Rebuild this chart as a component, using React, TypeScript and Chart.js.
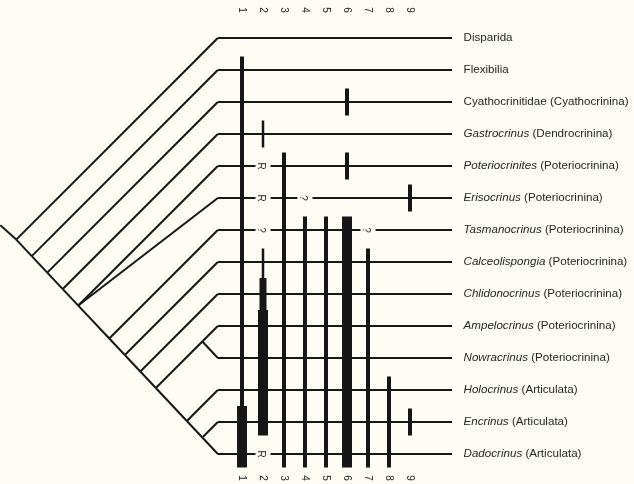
import React, { useEffect, useRef } from "react";
import { Chart, registerables } from "chart.js";

Chart.register(...registerables);

// ---------------- DATA ----------------
const taxonNames = [
  "Disparida",
  "Flexibilia",
  "Cyathocrinitidae",
  "Gastrocrinus",
  "Poteriocrinites",
  "Erisocrinus",
  "Tasmanocrinus",
  "Calceolispongia",
  "Chlidonocrinus",
  "Ampelocrinus",
  "Nowracrinus",
  "Holocrinus",
  "Encrinus",
  "Dadocrinus",
];
const taxonGroups = [
  "",
  "",
  "(Cyathocrinina)",
  "(Dendrocrinina)",
  "(Poteriocrinina)",
  "(Poteriocrinina)",
  "(Poteriocrinina)",
  "(Poteriocrinina)",
  "(Poteriocrinina)",
  "(Poteriocrinina)",
  "(Poteriocrinina)",
  "(Articulata)",
  "(Articulata)",
  "(Articulata)",
];
const italicNames = [false, false, false, true, true, true, true, true, true, true, true, true, true, true];

const characterLabels = ["1", "2", "3", "4", "5", "6", "7", "8", "9"];

// tree topology (taxon indices), nested clades
type Clade = number | Clade[];
const cladogram: Clade = [0, [1, [2, [3, [4, 5, [6, [7, [8, [[9, 10], [11, [12, 13]]]]]]]]]]];

// character states per taxon: 0 absent, 1 hairline, 2 thin, 3 medium, 4 thick, "R" reversal, "?" unknown
type State = number | string;
const char1: State[] = [0, 2, 2, 2, 2, 2, 2, 2, 2, 2, 2, 2, 4, 4];
const char2: State[] = [0, 0, 0, 1, "R", "R", "?", 1, 3, 4, 4, 4, 4, "R"];
const char3: State[] = [0, 0, 0, 0, 2, 2, 2, 2, 2, 2, 2, 2, 2, 2];
const char4: State[] = [0, 0, 0, 0, 0, "?", 2, 2, 2, 2, 2, 2, 2, 2];
const char5: State[] = [0, 0, 0, 0, 0, 0, 2, 2, 2, 2, 2, 2, 2, 2];
const char6: State[] = [0, 0, 2, 0, 2, 0, 4, 4, 4, 4, 4, 4, 4, 4];
const char7: State[] = [0, 0, 0, 0, 0, 0, "?", 2, 2, 2, 2, 2, 2, 2];
const char8: State[] = [0, 0, 0, 0, 0, 0, 0, 0, 0, 0, 0, 2, 2, 2];
const char9: State[] = [0, 0, 0, 0, 0, 2, 0, 0, 0, 0, 0, 0, 2, 0];
const characterStates = [char1, char2, char3, char4, char5, char6, char7, char8, char9];

// ---------------- STYLE / LAYOUT ----------------
const W = 634;
const H = 484;
const COL_PX = 21;
const COL0_PX = 221; // pixel of x = 0
const ROW_PX = 32;
const ROW0_PX = 38; // pixel of first taxon row
const K = ROW_PX / COL_PX; // x units per row for 45° lines
const LEAF_START = -0.15;
const LINE_END = 11;
const LABEL_X = 11.55;
const NODE_SHIFT = 0.2; // nudge (rows) of the root along the up-right diagonal, tapering to 0 at the tips
const TOP_NUM_ROW = (10 - ROW0_PX) / ROW_PX;
const BOTTOM_NUM_ROW = (478 - ROW0_PX) / ROW_PX;
const EXT = 0.42;
const GAP = 0.36;
const INK = "#161616";
const TEXT_INK = "#262626";
const BG = "#fdfdf4";
const TREE_W = 2;
const LINE_W = 2;
const stateWidth: Record<number, number> = { 1: 2.5, 2: 4, 3: 7, 4: 10 };
const FONT = '"Liberation Sans", Arial, Helvetica, sans-serif';
const LABEL_SIZE = 11.6;
const LAST = taxonNames.length - 1;

type Seg = { x1: number; y1: number; x2: number; y2: number; w: number };

function layoutTree(node: Clade, segs: Seg[]): { x: number; y: number; min: number; max: number } {
  if (typeof node === "number") return { x: LEAF_START, y: node, min: node, max: node };
  const kids = node.map((n) => layoutTree(n, segs));
  const min = Math.min(...kids.map((k) => k.min));
  const max = Math.max(...kids.map((k) => k.max));
  const shift = (NODE_SHIFT * (max - min)) / LAST;
  const y = (min + max) / 2 - shift;
  const x = LEAF_START - ((max - min) / 2) * K + shift * K;
  kids.forEach((k) => segs.push({ x1: x, y1: y, x2: k.x, y2: k.y, w: TREE_W }));
  return { x, y, min, max };
}

function buildSegments(): Seg[] {
  const segs: Seg[] = [];
  const root = layoutTree(cladogram, segs);
  segs.push({ x1: root.x - 0.5 * K, y1: root.y - 0.45, x2: root.x, y2: root.y, w: TREE_W });

  // horizontal taxon lines with gaps for symbols
  taxonNames.forEach((_, i) => {
    const symCols: number[] = [];
    characterStates.forEach((col, c) => {
      if (typeof col[i] === "string") symCols.push(c + 1);
    });
    let start = LEAF_START;
    symCols.forEach((c) => {
      segs.push({ x1: start, y1: i, x2: c - GAP, y2: i, w: LINE_W });
      start = c + GAP;
    });
    segs.push({ x1: start, y1: i, x2: LINE_END, y2: i, w: LINE_W });
  });

  // vertical character bars
  const num = (s: State | undefined) => (typeof s === "number" ? s : 0);
  characterStates.forEach((col, c) => {
    let i = 0;
    while (i < col.length) {
      const s = num(col[i]);
      if (s <= 0) {
        i++;
        continue;
      }
      let j = i;
      while (j + 1 < col.length && num(col[j + 1]) === s) j++;
      const y1 = i > 0 && num(col[i - 1]) > 0 ? i - 0.5 : i - EXT;
      const y2 = j < col.length - 1 && num(col[j + 1]) > 0 ? j + 0.5 : j + EXT;
      segs.push({ x1: c + 1, y1, x2: c + 1, y2, w: stateWidth[s] });
      i = j + 1;
    }
  });
  return segs;
}

const bgPlugin = {
  id: "bg",
  beforeDraw(chart: any) {
    const { ctx } = chart;
    ctx.save();
    ctx.fillStyle = BG;
    ctx.fillRect(0, 0, chart.width, chart.height);
    ctx.restore();
  },
};

const textPlugin = {
  id: "cladeText",
  afterDatasetsDraw(chart: any) {
    const { ctx } = chart;
    const xs = chart.scales.x;
    const ys = chart.scales.y;
    ctx.save();
    ctx.fillStyle = TEXT_INK;
    ctx.textBaseline = "middle";
    ctx.textAlign = "left";
    taxonNames.forEach((name, i) => {
      const px = xs.getPixelForValue(LABEL_X);
      const py = ys.getPixelForValue(i);
      ctx.font = `${italicNames[i] ? "italic " : ""}${LABEL_SIZE}px ${FONT}`;
      ctx.fillText(name, px, py);
      const w = ctx.measureText(name).width;
      if (taxonGroups[i]) {
        ctx.font = `${LABEL_SIZE}px ${FONT}`;
        ctx.fillText(" " + taxonGroups[i], px + w, py);
      }
    });

    const rotText = (t: string, xv: number, yv: number, size: number) => {
      const px = xs.getPixelForValue(xv);
      const py = ys.getPixelForValue(yv);
      ctx.save();
      ctx.translate(px, py);
      ctx.rotate(Math.PI / 2);
      ctx.font = `${size}px ${FONT}`;
      ctx.textAlign = "center";
      ctx.textBaseline = "middle";
      ctx.fillText(t, 0, 0);
      ctx.restore();
    };

    characterLabels.forEach((lab, c) => {
      rotText(lab, c + 1, TOP_NUM_ROW, 10);
      rotText(lab, c + 1, BOTTOM_NUM_ROW, 10);
    });

    characterStates.forEach((col, c) => {
      col.forEach((s, i) => {
        if (typeof s === "string") rotText(s, c + 1 - 0.1, i, 10);
      });
    });
    ctx.restore();
  },
};

export default function App() {
  const canvasRef = useRef<HTMLCanvasElement | null>(null);

  useEffect(() => {
    if (!canvasRef.current) return;
    const segs = buildSegments();
    const datasets = segs.map((s) => ({
      type: "line" as const,
      data: [
        { x: s.x1, y: s.y1 },
        { x: s.x2, y: s.y2 },
      ],
      showLine: true,
      borderColor: INK,
      borderWidth: s.w,
      borderCapStyle: "butt" as const,
      borderJoinStyle: "miter" as const,
      pointRadius: 0,
      pointHoverRadius: 0,
      fill: false,
      tension: 0,
    }));
    const chart = new Chart(canvasRef.current, {
      type: "scatter",
      data: { datasets: datasets as any },
      options: {
        animation: false,
        responsive: false,
        events: [],
        layout: { padding: 0 },
        plugins: { legend: { display: false }, tooltip: { enabled: false } },
        scales: {
          x: { type: "linear", display: false, min: -COL0_PX / COL_PX, max: (W - COL0_PX) / COL_PX },
          y: { type: "linear", display: false, reverse: true, min: -ROW0_PX / ROW_PX, max: (H - ROW0_PX) / ROW_PX },
        },
      },
      plugins: [bgPlugin, textPlugin],
    });
    return () => chart.destroy();
  }, []);

  return (
    <div style={{ position: "fixed", left: 0, top: 0, width: W, height: H, background: BG }}>
      <canvas ref={canvasRef} width={W} height={H} style={{ display: "block", width: W, height: H }} />
    </div>
  );
}
